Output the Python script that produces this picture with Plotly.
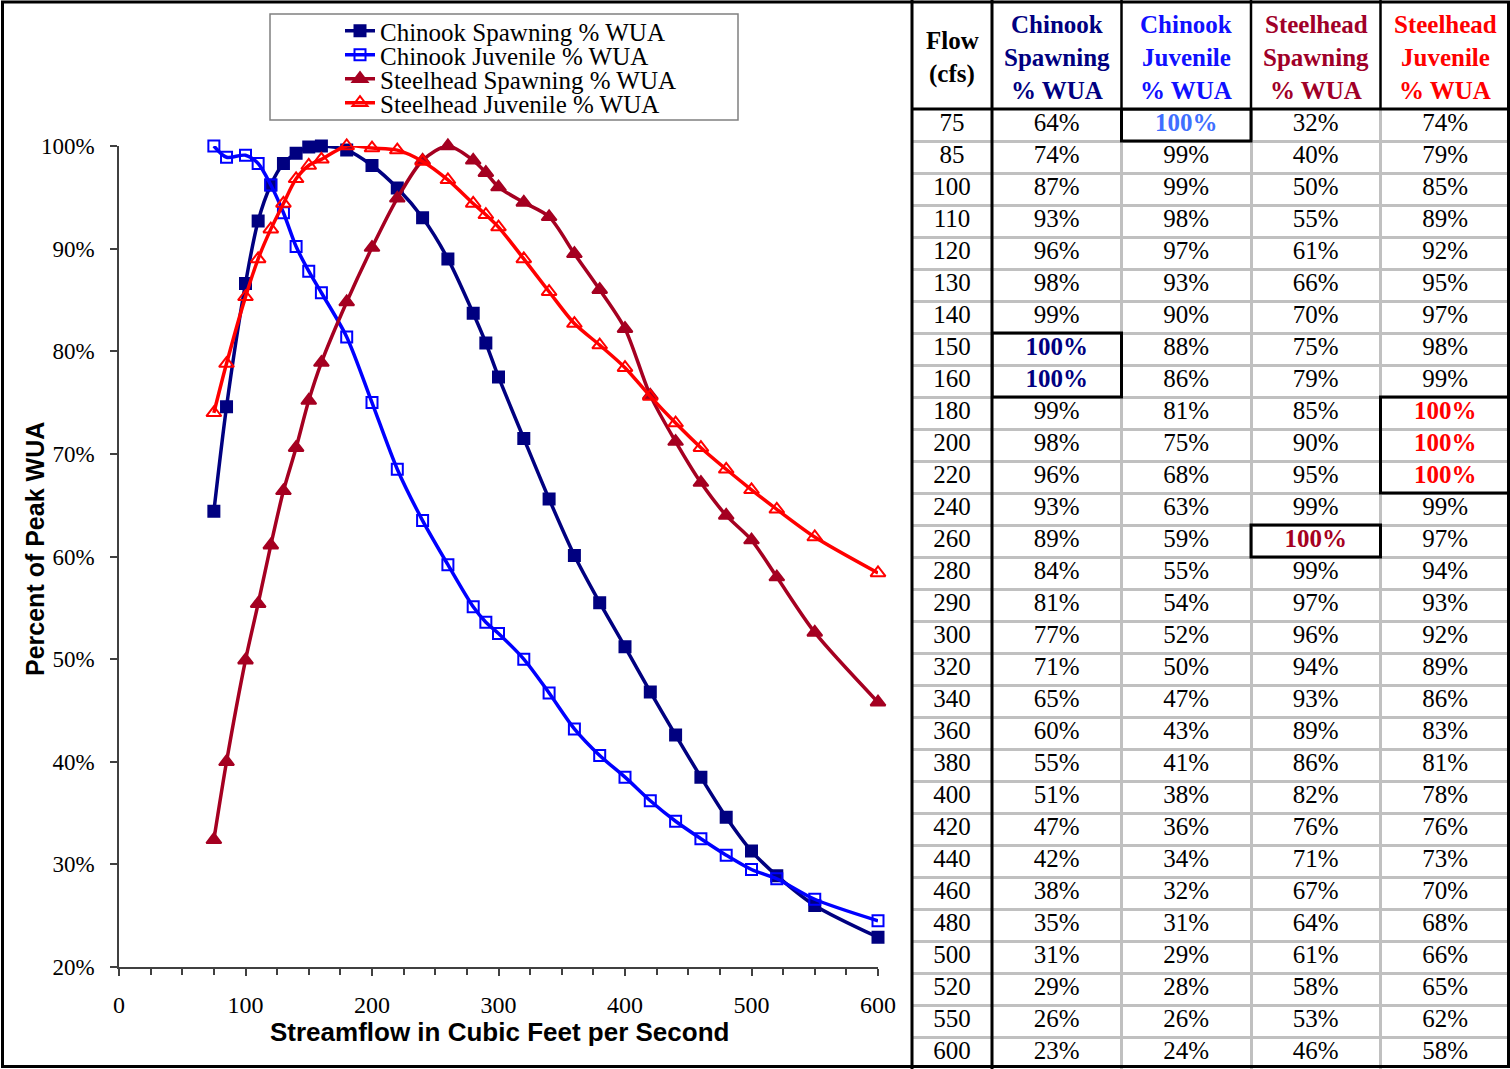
import plotly.graph_objects as go

W, H = 1510, 1069

# ---------------- data ----------------
flow = [75, 85, 100, 110, 120, 130, 140, 150, 160, 180, 200, 220, 240, 260, 280,
        290, 300, 320, 340, 360, 380, 400, 420, 440, 460, 480, 500, 520, 550, 600]

# plotted values (% of peak WUA)
chinook_spawning = [64.4, 74.6, 86.6, 92.7, 96.2, 98.3, 99.3, 99.9, 100.0, 99.6, 98.1, 95.9, 93.0, 89.0, 83.7,
                    80.8, 77.5, 71.5, 65.6, 60.1, 55.5, 51.2, 46.8, 42.6, 38.5, 34.6, 31.3, 28.9, 26.0, 22.9]
chinook_juvenile = [100.0, 98.9, 99.1, 98.3, 96.2, 93.5, 90.2, 87.8, 85.7, 81.4, 75.0, 68.5, 63.5, 59.2, 55.1,
                    53.6, 52.5, 50.0, 46.7, 43.2, 40.6, 38.5, 36.2, 34.2, 32.5, 30.9, 29.5, 28.6, 26.6, 24.5]
steelhead_spawning = [32.4, 40.0, 49.9, 55.4, 61.1, 66.4, 70.6, 75.2, 78.9, 84.8, 90.1, 94.9, 98.6, 100.0, 98.6,
                      97.4, 96.0, 94.5, 93.1, 89.5, 86.0, 82.2, 75.7, 71.2, 67.2, 64.0, 61.6, 58.0, 52.6, 45.8]
steelhead_juvenile = [74.0, 78.8, 85.3, 89.0, 91.9, 94.4, 96.8, 98.1, 98.7, 100.0, 99.8, 99.6, 98.5, 96.7, 94.4,
                      93.3, 92.1, 89.0, 85.8, 82.7, 80.6, 78.4, 75.6, 73.0, 70.6, 68.5, 66.5, 64.6, 61.9, 58.4]

# table values (rounded %)
tbl_cs = [64, 74, 87, 93, 96, 98, 99, 100, 100, 99, 98, 96, 93, 89, 84,
          81, 77, 71, 65, 60, 55, 51, 47, 42, 38, 35, 31, 29, 26, 23]
tbl_cj = [100, 99, 99, 98, 97, 93, 90, 88, 86, 81, 75, 68, 63, 59, 55,
          54, 52, 50, 47, 43, 41, 38, 36, 34, 32, 31, 29, 28, 26, 24]
tbl_ss = [32, 40, 50, 55, 61, 66, 70, 75, 79, 85, 90, 95, 99, 100, 99,
          97, 96, 94, 93, 89, 86, 82, 76, 71, 67, 64, 61, 58, 53, 46]
tbl_sj = [74, 79, 85, 89, 92, 95, 97, 98, 99, 100, 100, 100, 99, 97, 94,
          93, 92, 89, 86, 83, 81, 78, 76, 73, 70, 68, 66, 65, 62, 58]

series_names = ["Chinook Spawning % WUA", "Chinook Juvenile % WUA",
                "Steelhead Spawning % WUA", "Steelhead Juvenile % WUA"]
header_lines = [["Flow", "(cfs)"],
                ["Chinook", "Spawning", "% WUA"],
                ["Chinook", "Juvenile", "% WUA"],
                ["Steelhead", "Spawning", "% WUA"],
                ["Steelhead", "Juvenile", "% WUA"]]

# ---------------- styles ----------------
NAVY = "#000080"
BLUE = "#0000FF"
DKRED = "#A50021"
RED = "#FF0000"
HL_COLORS = [NAVY, "#3F6FFF", DKRED, RED]
HEAD_COLORS = ["black", NAVY, "#1010FF", "#A00028", RED]
SERIF = "Liberation Serif"
SANS = "Liberation Sans"

def px_x(p):
    return p / W

def px_y(p):
    return 1 - p / H

fig = go.Figure()

styles = [
    dict(color=NAVY, symbol="square", size=11),
    dict(color=BLUE, symbol="square-open", size=11),
    dict(color=DKRED, symbol="triangle-up", size=13),
    dict(color=RED, symbol="triangle-up-open", size=13),
]
all_series = [chinook_spawning, chinook_juvenile, steelhead_spawning, steelhead_juvenile]
legend_ids = ["legend", "legend2", "legend3", "legend4"]
for name, vals, st, lg in zip(series_names, all_series, styles, legend_ids):
    fig.add_trace(go.Scatter(
        x=flow, y=vals, name=name, mode="lines+markers",
        line=dict(color=st["color"], width=3.5, shape="spline", smoothing=0.8),
        marker=dict(symbol=st["symbol"], size=st["size"], color=st["color"],
                    line=dict(color=st["color"], width=2)),
        cliponaxis=False, legend=lg, xaxis="x", yaxis="y"))

# ---------------- table (text on category axes) ----------------
flow_str = [str(f) for f in flow]
col_keys = ["cs", "cj", "ss", "sj"]
tables = [tbl_cs, tbl_cj, tbl_ss, tbl_sj]
CELL_SIZE = 25

fig.add_trace(go.Scatter(
    x=["flow"] * len(flow), y=flow_str, text=flow_str, mode="text",
    textfont=dict(family=SERIF, size=CELL_SIZE, color="black"),
    xaxis="x3", yaxis="y2", showlegend=False, hoverinfo="skip"))

for key, vals, hl in zip(col_keys, tables, HL_COLORS):
    txt = [f"<b>{v}%</b>" if v == 100 else f"{v}%" for v in vals]
    cols = [hl if v == 100 else "black" for v in vals]
    fig.add_trace(go.Scatter(
        x=[key] * len(vals), y=flow_str, text=txt, mode="text",
        textfont=dict(family=SERIF, size=CELL_SIZE, color=cols),
        xaxis="x2", yaxis="y2", showlegend=False, hoverinfo="skip"))

shapes = []
# boxes around the peak (100%) cells
for ci, vals in enumerate(tables):
    i = 0
    while i < len(vals):
        if vals[i] == 100:
            j = i
            while j + 1 < len(vals) and vals[j + 1] == 100:
                j += 1
            shapes.append(dict(type="rect", xref="x2", yref="y2",
                               x0=ci - 0.5, x1=ci + 0.5, y0=i - 0.5, y1=j + 0.5,
                               line=dict(color="black", width=3), layer="above"))
            i = j + 1
        else:
            i += 1

# table frame lines
line_blk = dict(color="black", width=3)
shapes += [
    dict(type="line", xref="paper", yref="paper", x0=px_x(912), x1=px_x(912), y0=0, y1=1, line=line_blk),
    dict(type="line", xref="paper", yref="paper", x0=px_x(992), x1=px_x(992), y0=0, y1=1, line=line_blk),
    dict(type="line", xref="paper", yref="paper", x0=px_x(912), x1=1, y0=px_y(109), y1=px_y(109), line=line_blk),
]
for xb in [1121.5, 1251, 1380.5]:
    shapes.append(dict(type="line", xref="paper", yref="paper", x0=px_x(xb), x1=px_x(xb),
                       y0=px_y(109), y1=1, line=dict(color="black", width=2.5)))
# outer frame
shapes.append(dict(type="rect", xref="paper", yref="paper", x0=px_x(2.5), x1=px_x(1508.5),
                   y0=px_y(1066.5), y1=px_y(2), line=line_blk))
# legend frame
shapes.append(dict(type="rect", xref="paper", yref="paper", x0=px_x(270), x1=px_x(738),
                   y0=px_y(120), y1=px_y(14), line=dict(color="#808080", width=1.5)))

# header annotations
annotations = []
col_centers = [952, 1057, 1186, 1316, 1445]
for ci, (lines, col) in enumerate(zip(header_lines, HEAD_COLORS)):
    ys = [40, 74] if len(lines) == 2 else [24, 58, 91]
    for ln, yy in zip(lines, ys):
        annotations.append(dict(text=f"<b>{ln}</b>", x=px_x(col_centers[ci]), y=px_y(yy),
                                xref="paper", yref="paper", showarrow=False,
                                xanchor="center", yanchor="middle",
                                font=dict(family=SERIF, size=25, color=col)))

# axis titles
annotations.append(dict(text="<b>Percent of Peak WUA</b>", x=px_x(35), y=px_y(549),
                        xref="paper", yref="paper", showarrow=False, textangle=-90,
                        xanchor="center", yanchor="middle",
                        font=dict(family=SANS, size=25, color="black")))
annotations.append(dict(text="<b>Streamflow in Cubic Feet per Second</b>", x=px_x(499), y=px_y(1032),
                        xref="paper", yref="paper", showarrow=False,
                        xanchor="center", yanchor="middle",
                        font=dict(family=SANS, size=26, color="black")))

legend_common = dict(x=px_x(340), xanchor="left", yanchor="middle",
                     bgcolor="rgba(0,0,0,0)", borderwidth=0,
                     font=dict(family=SERIF, size=25, color="black"))
legend_y = [31, 55, 79, 103]

AX = "#404040"
fig.update_layout(
    width=W, height=H, margin=dict(l=0, r=0, t=0, b=0, pad=0, autoexpand=False),
    paper_bgcolor="white", plot_bgcolor="rgba(0,0,0,0)",
    showlegend=True,
    legend=dict(y=px_y(legend_y[0]), **legend_common),
    legend2=dict(y=px_y(legend_y[1]), **legend_common),
    legend3=dict(y=px_y(legend_y[2]), **legend_common),
    legend4=dict(y=px_y(legend_y[3]), **legend_common),
    xaxis=dict(domain=[px_x(119), px_x(878)], range=[0, 600], dtick=100, tick0=0,
               ticks="outside", ticklen=7, tickcolor=AX, tickwidth=1.5,
               showline=True, linecolor=AX, linewidth=1.5,
               minor=dict(dtick=25, ticks="outside", ticklen=6, tickcolor=AX, tickwidth=1.5),
               tickfont=dict(family=SERIF, size=24, color="black"), ticklabelstandoff=8,
               showgrid=False, zeroline=False, anchor="y", fixedrange=True, automargin=False),
    yaxis=dict(domain=[px_y(967), px_y(146)], range=[20, 100], dtick=10, tick0=0,
               ticksuffix="%", ticks="outside", ticklen=7, tickcolor=AX, tickwidth=1.5,
               showline=True, linecolor=AX, linewidth=1.5,
               tickfont=dict(family=SERIF, size=23, color="black"), ticklabelstandoff=11,
               showgrid=False, zeroline=False, anchor="x", fixedrange=True, automargin=False),
    xaxis2=dict(domain=[px_x(992), 1], type="category", categoryorder="array",
                categoryarray=col_keys, range=[-0.5, 3.5], showgrid=True,
                gridcolor="#C0C0C0", gridwidth=3, tickson="boundaries",
                showticklabels=False, ticks="", showline=False, zeroline=False,
                anchor="y2", fixedrange=True, automargin=False),
    xaxis3=dict(domain=[px_x(912), px_x(992)], type="category", range=[-0.5, 0.5],
                showgrid=False, showticklabels=False, ticks="", showline=False,
                zeroline=False, anchor="y2", fixedrange=True, automargin=False),
    yaxis2=dict(domain=[0, px_y(109)], type="category", categoryorder="array",
                categoryarray=flow_str, range=[len(flow) - 0.5, -0.5], showgrid=True,
                gridcolor="#C0C0C0", gridwidth=3, tickson="boundaries",
                showticklabels=False, ticks="", showline=False, zeroline=False,
                anchor="x2", fixedrange=True, automargin=False),
    shapes=shapes, annotations=annotations,
)

fig.write_html("out.html", post_script="document.body.style.margin='0';")
